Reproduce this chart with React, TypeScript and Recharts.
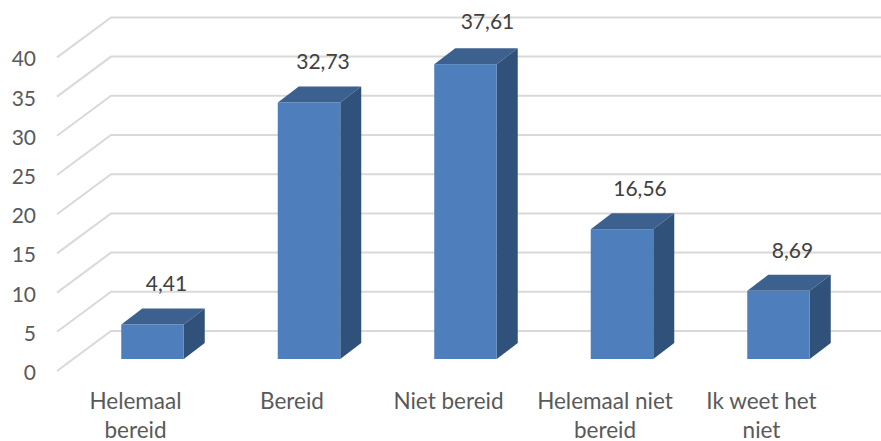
import { BarChart, Bar, XAxis, YAxis, CartesianGrid, LabelList } from "recharts";

const categories = ["Helemaal bereid", "Bereid", "Niet bereid", "Helemaal niet bereid", "Ik weet het niet"];
const tickLines = [["Helemaal", "bereid"], ["Bereid"], ["Niet bereid"], ["Helemaal niet", "bereid"], ["Ik weet het", "niet"]];
const values = [4.41, 32.73, 37.61, 16.56, 8.69];
const yTicks = [0, 5, 10, 15, 20, 25, 30, 35, 40];

const data = categories.map((name, i) => ({ name, value: values[i] }));

const FONT = "Lato, sans-serif";
const DEPTH_X = 21;
const DEPTH_Y = 16;
// a couple of data labels were moved by hand in the original
const LABEL_NUDGE_X = [0, 0, 8, 4, 0];
const LABEL_NUDGE_Y = [0, 0, -2, 0, 0];

function Bar3D({ x, y, width, height }: any) {
  const r = x + width;
  const b = y + height;
  return (
    <g>
      <polygon points={`${x},${y} ${x + DEPTH_X},${y - DEPTH_Y} ${r + DEPTH_X},${y - DEPTH_Y} ${r},${y}`} fill="#3D618F" />
      <polygon points={`${r},${y} ${r + DEPTH_X},${y - DEPTH_Y} ${r + DEPTH_X},${b - DEPTH_Y} ${r},${b}`} fill="#30517A" />
      <rect x={x} y={y} width={width} height={height} fill="#4E7FBC" />
    </g>
  );
}

function GridLine({ y1 }: any) {
  // wall line at the back plus the floor diagonal going to the front
  const backY = y1 - 28;
  return (
    <polyline
      points={`57,${y1 + 12} 111,${backY} 881,${backY}`}
      fill="none"
      stroke="#D9D9D9"
      strokeWidth={2}
    />
  );
}

function YTick({ y, payload }: any) {
  return (
    <text x={36} y={y + 12} dy={9} textAnchor="end" fontFamily={FONT} fontSize={21} fill="#595959">
      {payload.value}
    </text>
  );
}

function XTick({ x, index }: any) {
  return (
    <g>
      {tickLines[index].map((line, i) => (
        <text key={line} x={x - 17} y={409 + i * 29} textAnchor="middle" fontFamily={FONT} fontSize={22.5} fill="#595959">
          {line}
        </text>
      ))}
    </g>
  );
}

function ValueLabel({ x, y, width, value, index }: any) {
  return (
    <text
      x={x + width / 2 + 14 + LABEL_NUDGE_X[index]}
      y={y - 33 + LABEL_NUDGE_Y[index]}
      textAnchor="middle"
      fontFamily={FONT}
      fontSize={21}
      fill="#404040"
    >
      {value.toFixed(2).replace(".", ",")}
    </text>
  );
}

export default function App() {
  return (
    <div style={{ position: "absolute", left: 0, top: 0, width: 881, height: 441, background: "#fff" }}>
      <BarChart
        width={881}
        height={441}
        data={data}
        margin={{ top: 45.4, right: 24.25, bottom: 0, left: 0 }}
        barSize={62.5}
      >
        <CartesianGrid horizontal={(props: any) => <GridLine key={props.key} {...props} />} vertical={false} />
        <XAxis dataKey="name" axisLine={false} tickLine={false} interval={0} tick={<XTick />} height={82} />
        <YAxis domain={[0, 40]} ticks={yTicks} axisLine={false} tickLine={false} tick={<YTick />} width={74.25} />
        <Bar dataKey="value" isAnimationActive={false} shape={<Bar3D />}>
          <LabelList dataKey="value" content={<ValueLabel />} />
        </Bar>
      </BarChart>
    </div>
  );
}
